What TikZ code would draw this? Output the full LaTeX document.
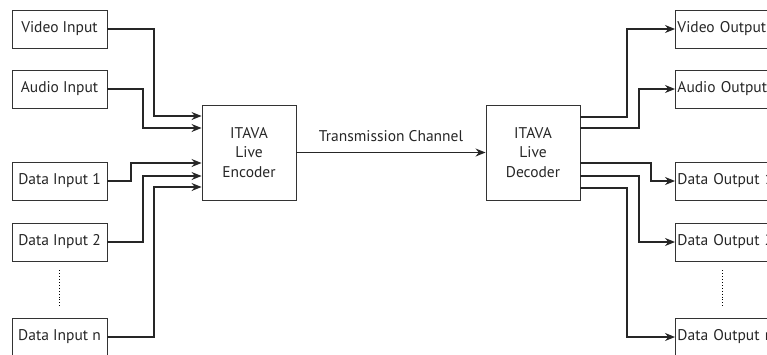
\documentclass[tikz,border=0pt]{standalone}
\usepackage{fontspec}
\setmainfont{PT Sans}
\usetikzlibrary{arrows.meta}

\tikzset{
  inbox/.style={draw=black!80, line width=0.9pt, minimum width=95pt, minimum height=38pt, inner sep=2pt},
  outbox/.style={draw=black!80, line width=0.9pt, minimum height=38pt, text width=110pt, align=left, inner xsep=2pt, anchor=west},
  codec/.style={draw=black!80, line width=0.9pt, minimum width=94pt, minimum height=95pt, align=center},
  arr/.style={draw=black!85, line width=1.2pt, -{Stealth[length=10pt,width=8pt]}}
}

\begin{document}
\begin{tikzpicture}[x=1pt, y=-1pt, font=\fontsize{15.5}{19.5}\selectfont, text=black!85]
  \useasboundingbox (0,0) rectangle (767,354);

  % inputs
  \node[inbox] (vin)  at (59.5,29)  {Video Input};
  \node[inbox] (ain)  at (59.5,89)  {Audio Input};
  \node[inbox] (din1) at (59.5,181) {Data Input 1};
  \node[inbox] (din2) at (59.5,242) {Data Input 2};
  \node[inbox] (dinn) at (59.5,337) {Data Input n};
  \draw[dotted, line width=0.9pt] ([yshift=-9pt]din2.south) -- ([yshift=11pt]dinn.north);

  % encoder and decoder
  \node[codec] (enc) at (249,152.5) {ITAVA\\Live\\Encoder};
  \node[codec] (dec) at (533,152.5) {ITAVA\\Live\\Decoder};

  % outputs
  \node[outbox] (vout)  at (675,29)  {Video Output};
  \node[outbox] (aout)  at (675,89)  {Audio Output};
  \node[outbox] (dout1) at (675,181) {Data Output 1};
  \node[outbox] (dout2) at (675,242) {Data Output 2};
  \node[outbox] (doutn) at (675,337) {Data Output n};
  \draw[dotted, line width=0.9pt] ([xshift=47.5pt,yshift=-9pt]dout2.south west) -- ([xshift=47.5pt,yshift=11pt]doutn.north west);

  % inputs into the encoder
  \foreach \src/\x/\y in {vin/154/116, ain/143/128, din1/131/163, din2/143/176, dinn/154/187} {
    \draw[arr] (\src.east) -| (\x,\y) -- (enc.west |- 0,\y);
  }

  % channel
  \draw[arr] (enc.east) -- (dec.west) node[midway, above=7pt] {Transmission Channel};

  % decoder to the outputs
  \foreach \dst/\x/\y in {vout/627/117, aout/639/128, dout1/651/163, dout2/639/176, doutn/627/188} {
    \draw[arr] (dec.east |- 0,\y) -- (\x,\y) |- (\dst.west);
  }
\end{tikzpicture}
\end{document}
